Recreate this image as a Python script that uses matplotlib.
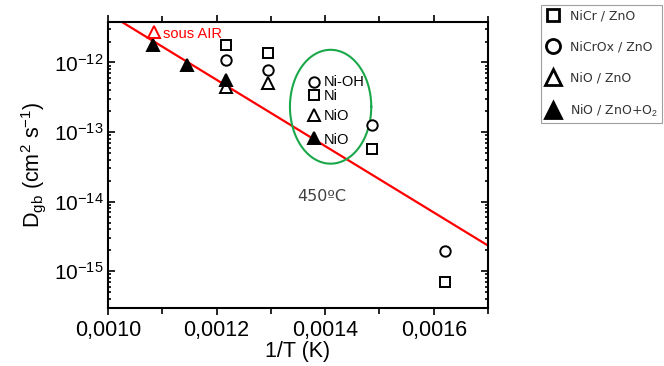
import numpy as np
import matplotlib
matplotlib.use("Agg")
import matplotlib.pyplot as plt
from matplotlib.ticker import FixedLocator, MultipleLocator, FuncFormatter, NullFormatter, LogFormatterMathtext

plt.rcParams['font.family'] = ['Liberation Sans', 'DejaVu Sans']
plt.rcParams['mathtext.fontset'] = 'custom'
plt.rcParams['mathtext.rm'] = 'Liberation Sans'
plt.rcParams['mathtext.it'] = 'Liberation Sans:italic'
plt.rcParams['mathtext.bf'] = 'Liberation Sans:bold'

# Grain-boundary diffusion coefficients vs inverse temperature
nicr_x = [0.0012165, 0.0012949, 0.0013798, 0.001486, 0.001621]
nicr_y = [1.79e-12, 1.39e-12, 3.36e-13, 5.8e-14, 6.95e-16]

nicrox_x = [0.0012165, 0.0012949, 0.0013798, 0.001486, 0.001621]
nicrox_y = [1.07e-12, 7.9e-13, 5.16e-13, 1.28e-13, 1.98e-15]

nio_x = [0.0012165, 0.0012949, 0.0013798]
nio_y = [4.4e-13, 5.06e-13, 1.74e-13]

nio_o2_x = [0.001083, 0.001146, 0.0012165, 0.0013798]
nio_o2_y = [1.79e-12, 9.1e-13, 5.6e-13, 8.1e-14]

air_x = [0.001084]
air_y = [2.78e-12]

# Arrhenius fit line
fit_x = [0.0010, 0.0017]
fit_y = [5.05e-12, 2.34e-15]

x_ticks = [0.0010, 0.0012, 0.0014, 0.0016]
y_ticks = [1e-15, 1e-14, 1e-13, 1e-12]

fig = plt.figure(figsize=(6.64, 3.66), dpi=100)
ax = fig.add_axes([0.1627, 0.1593, 0.5723, 0.7814])
ax.set_yscale('log')

ax.plot(fit_x, fit_y, color='#ff0000', lw=1.6, zorder=2)

mk = dict(ls='none', mec='black', mew=1.4, zorder=3)
ax.plot(nicr_x, nicr_y, marker='s', ms=6.5, mfc='white', label='NiCr / ZnO', **mk)
ax.plot(nicrox_x, nicrox_y, marker='o', ms=7.5, mfc='white', label='NiCrOx / ZnO', **mk)
ax.plot(nio_x, nio_y, marker='^', ms=8.5, mfc='white', label='NiO / ZnO', **mk)
ax.plot(nio_o2_x, nio_o2_y, marker='^', ms=8.5, mfc='black', label='NiO / ZnO+O$_2$', **mk)
ax.plot(air_x, air_y, ls='none', marker='^', ms=8.5, mfc='white', mec='#ff0000', mew=1.4, zorder=3)

# Ellipse around the 450°C group
t = np.linspace(0, 2 * np.pi, 300)
ex = 0.00141 + 0.0000749 * np.cos(t)
ey = 10 ** (-12.636 + 0.818 * np.sin(t))
ax.plot(ex, ey, color='#1aa84a', lw=1.5, zorder=2)

ax.text(0.001101, 2.58e-12, 'sous AIR', color='#ff0000', fontsize=10.5, va='center', ha='left')
ax.text(0.001398, 5.3e-13, 'Ni-OH', fontsize=10.5, va='center', ha='left')
ax.text(0.001398, 3.33e-13, 'Ni', fontsize=10.5, va='center', ha='left')
ax.text(0.001398, 1.72e-13, 'NiO', fontsize=10.5, va='center', ha='left')
ax.text(0.001398, 7.8e-14, 'NiO', fontsize=10.5, va='center', ha='left')
ax.text(0.001394, 1.18e-14, '450ºC', fontsize=11.5, color='#404040', va='center', ha='center',
        family=['DejaVu Sans'])

ax.set_xlim(0.0010, 0.0017)
ax.set_ylim(3.0e-16, 3.85e-12)
ax.xaxis.set_major_locator(FixedLocator(x_ticks))
ax.xaxis.set_minor_locator(MultipleLocator(0.0001))
ax.xaxis.set_major_formatter(FuncFormatter(lambda v, p: f"{v:.4f}".replace('.', ',')))
ax.xaxis.set_minor_formatter(NullFormatter())
ax.yaxis.set_major_locator(FixedLocator(y_ticks))
ax.yaxis.set_major_formatter(LogFormatterMathtext())
y_minor = [m * 10.0 ** e for e in range(-17, -11) for m in range(2, 10)]
y_minor = [v for v in y_minor if 3.0e-16 <= v <= 3.85e-12]
ax.yaxis.set_minor_locator(FixedLocator(y_minor))
ax.yaxis.set_minor_formatter(NullFormatter())

ax.tick_params(axis='both', which='both', top=True, right=True, width=1.2)
ax.tick_params(axis='x', which='major', direction='out', length=5, labelsize=15.5, pad=4)
ax.tick_params(axis='x', which='minor', direction='out', length=4)
ax.tick_params(axis='y', which='major', direction='in', length=5, labelsize=15, pad=3)
ax.tick_params(axis='y', which='minor', direction='in', length=2.5)
for s in ax.spines.values():
    s.set_linewidth(1.5)

ax.set_xlabel('1/T (K)', fontsize=15.5, labelpad=0)
ax.set_ylabel('D$_{\\mathrm{gb}}$ (cm$^{2}$ s$^{-1}$)', fontsize=15.5, labelpad=4)

leg = fig.legend(loc='upper left', bbox_to_anchor=(0.806, 1.004), frameon=True, fancybox=False,
                 markerscale=1.35, handlelength=1.2, handletextpad=0.7, labelspacing=1.45,
                 borderpad=0.35, prop={'family': 'DejaVu Sans', 'size': 9})
leg.get_frame().set_edgecolor('#888888')
leg.get_frame().set_linewidth(0.8)
for txt in leg.get_texts():
    txt.set_color('#333333')
for h in leg.legend_handles:
    h.set_markeredgewidth(2.0)

fig.savefig('out.png', dpi=100)
